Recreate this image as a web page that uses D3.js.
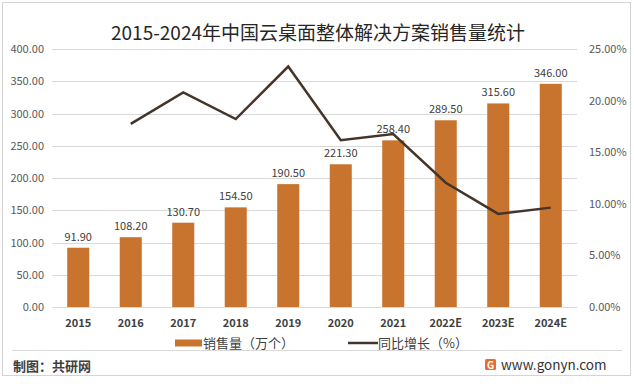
<!DOCTYPE html>
<html>
<head>
<meta charset="utf-8">
<script src="https://cdn.jsdelivr.net/npm/d3@7"></script>
<style>
  body { margin: 0; background: #fff; }
  text { font-family: "Noto Sans CJK SC", "Noto Sans", sans-serif; }
</style>
</head>
<body>
<div id="container"></div>
<script>
var width = 634,
    height = 384;

// data
var years = ["2015", "2016", "2017", "2018", "2019", "2020", "2021", "2022E", "2023E", "2024E"];
var sales = [91.9, 108.2, 130.7, 154.5, 190.5, 221.3, 258.4, 289.5, 315.6, 346.0];
var growth = [null, 17.74, 20.79, 18.21, 23.30, 16.17, 16.76, 12.04, 9.02, 9.63];
var leftTicks = [0, 50, 100, 150, 200, 250, 300, 350, 400];
var rightTicks = [0, 5, 10, 15, 20, 25];

var barColor = "#c8742f",
    lineColor = "#45342a";

var svg = d3.select("#container").append("svg")
    .attr("width", width)
    .attr("height", height);

// outer frame
svg.append("rect")
    .attr("x", 2.5).attr("y", 2.5)
    .attr("width", 628).attr("height", 373)
    .attr("fill", "#fff")
    .attr("stroke", "#d4d4d4");

var x = d3.scaleBand()
    .domain(years)
    .range([52, 577])
    .paddingInner(0.58)
    .paddingOuter(0.29);

var y = d3.scaleLinear().domain([0, 400]).range([307, 49]);
var y2 = d3.scaleLinear().domain([0, 25]).range([307, 49]);

// title
svg.append("text")
    .attr("x", 318).attr("y", 40)
    .attr("text-anchor", "middle")
    .attr("font-size", 19)
    .attr("fill", "#262626")
    .text("2015-2024年中国云桌面整体解决方案销售量统计");

// grid
svg.append("g").selectAll("line")
    .data(leftTicks)
    .enter().append("line")
    .attr("x1", 52).attr("x2", 577)
    .attr("y1", d => Math.round(y(d)) + 0.5)
    .attr("y2", d => Math.round(y(d)) + 0.5)
    .attr("stroke", "#d9d9d9");

// left axis
var yAxis = svg.append("g")
    .attr("transform", "translate(44,0)")
    .call(d3.axisLeft(y).tickValues(leftTicks).tickSize(0).tickPadding(0).tickFormat(d3.format(".2f")));
yAxis.select(".domain").remove();
yAxis.selectAll("text").attr("font-size", 11).attr("fill", "#595959");

// right axis
var yAxis2 = svg.append("g")
    .attr("transform", "translate(589,0)")
    .call(d3.axisRight(y2).tickValues(rightTicks).tickSize(0).tickPadding(0).tickFormat(d => d3.format(".2f")(d) + "%"));
yAxis2.select(".domain").remove();
yAxis2.selectAll("text").attr("font-size", 11).attr("fill", "#595959");

// x axis labels
var xAxis = svg.append("g")
    .attr("transform", "translate(0,319)")
    .call(d3.axisBottom(x).tickSize(0).tickPadding(0));
xAxis.select(".domain").remove();
xAxis.selectAll("text").attr("font-size", 11).attr("font-weight", "bold").attr("fill", "#404040");

// bars
svg.selectAll(".bar")
    .data(sales)
    .enter().append("rect")
    .attr("class", "bar")
    .attr("x", (d, i) => x(years[i]))
    .attr("y", d => y(d))
    .attr("width", x.bandwidth())
    .attr("height", d => y(0) - y(d))
    .attr("fill", barColor);

svg.selectAll(".val")
    .data(sales)
    .enter().append("text")
    .attr("class", "val")
    .attr("x", (d, i) => x(years[i]) + x.bandwidth() / 2)
    .attr("y", d => y(d) - 7)
    .attr("text-anchor", "middle")
    .attr("font-size", 11)
    .attr("fill", "#404040")
    .text(d => d3.format(".2f")(d));

// growth line
var line = d3.line()
    .defined(d => d != null)
    .x((d, i) => x(years[i]) + x.bandwidth() / 2)
    .y(d => y2(d));

svg.append("path")
    .attr("d", line(growth))
    .attr("fill", "none")
    .attr("stroke", lineColor)
    .attr("stroke-width", 2.5)
    .attr("stroke-linejoin", "miter");

// legend
var lg = svg.append("g").attr("transform", "translate(0,343)");
lg.append("rect")
    .attr("x", 175).attr("y", -3.5)
    .attr("width", 27).attr("height", 7)
    .attr("fill", barColor);
lg.append("text")
    .attr("x", 203).attr("y", 4.5)
    .attr("font-size", 13)
    .attr("fill", "#404040")
    .text("销售量（万个）");
lg.append("line")
    .attr("x1", 348).attr("x2", 378)
    .attr("y1", 0).attr("y2", 0)
    .attr("stroke", lineColor)
    .attr("stroke-width", 2.5);
lg.append("text")
    .attr("x", 378).attr("y", 4.5)
    .attr("font-size", 13)
    .attr("fill", "#404040")
    .text("同比增长（%）");

// footer
svg.append("line")
    .attr("x1", 12).attr("x2", 622)
    .attr("y1", 350.5).attr("y2", 350.5)
    .attr("stroke", "#d9d9d9");

svg.append("text")
    .attr("x", 13).attr("y", 371)
    .attr("font-size", 13)
    .attr("font-weight", "bold")
    .attr("fill", "#404040")
    .text("制图：共研网");

var logo = svg.append("g").attr("transform", "translate(485,359)");
logo.append("rect")
    .attr("width", 11).attr("height", 11)
    .attr("rx", 1.5)
    .attr("fill", "#ee6a2a");
logo.append("text")
    .attr("x", 5.5).attr("y", 9.5)
    .attr("text-anchor", "middle")
    .attr("font-size", 10)
    .attr("font-weight", "bold")
    .attr("fill", "#fff")
    .text("G");

svg.append("text")
    .attr("x", 501).attr("y", 370)
    .attr("font-size", 13.5)
    .attr("font-family", "Arial, 'Liberation Sans', sans-serif")
    .attr("fill", "#333")
    .text("www.gonyn.com");
</script>
</body>
</html>
